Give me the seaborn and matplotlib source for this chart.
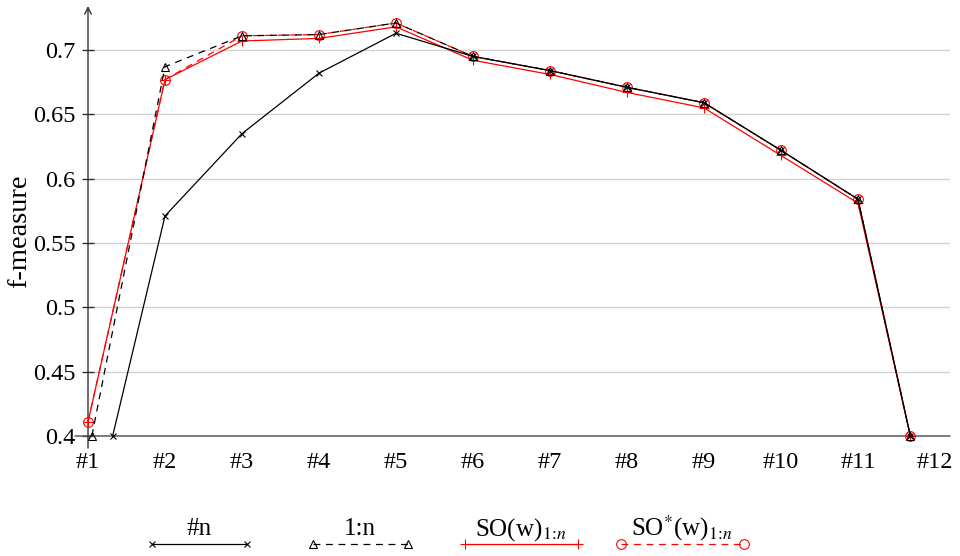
import matplotlib
matplotlib.use("Agg")
import matplotlib.pyplot as plt
import seaborn as sns
from matplotlib.legend_handler import HandlerBase
from matplotlib.lines import Line2D
from matplotlib.text import Text

# ---------------- data ----------------
tick_pos = list(range(1, 13))
tick_labels = ["#%d" % i for i in tick_pos]

x_n = [1.32, 2, 3, 4, 5, 6, 7, 8, 9, 10, 11, 11.68]
y_n = [0.400, 0.571, 0.635, 0.682, 0.713, 0.695, 0.684, 0.671, 0.659, 0.622, 0.584, 0.400]

x_1n = [1.05, 2, 3, 4, 5, 6, 7, 8, 9, 10, 11, 11.68]
y_1n = [0.400, 0.687, 0.711, 0.712, 0.721, 0.695, 0.684, 0.671, 0.659, 0.622, 0.584, 0.400]

x_so = [1.0, 2, 3, 4, 5, 6, 7, 8, 9, 10, 11, 11.68]
y_so = [0.411, 0.677, 0.707, 0.709, 0.718, 0.692, 0.681, 0.667, 0.655, 0.618, 0.581, 0.400]

x_sos = [1.0, 2, 3, 4, 5, 6, 7, 8, 9, 10, 11, 11.68]
y_sos = [0.411, 0.677, 0.711, 0.712, 0.721, 0.695, 0.684, 0.671, 0.659, 0.622, 0.584, 0.400]

labels = ["#n", "1:n", r"SO(w)$_{1\!:\!n}$", r"SO$^{*}$(w)$_{1\!:\!n}$"]
y_ticks = [0.4, 0.45, 0.5, 0.55, 0.6, 0.65, 0.7]
y_tick_labels = ["0.4", "0.45", "0.5", "0.55", "0.6", "0.65", "0.7"]

# ---------------- style ----------------
sns.set_theme(style="white")
plt.rcParams["font.family"] = ["Liberation Serif", "DejaVu Serif"]
plt.rcParams["mathtext.fontset"] = "stix"

fig = plt.figure(figsize=(9.6, 5.56), dpi=100)
ax = fig.add_axes([88 / 960, 120 / 556, (950 - 88) / 960, (436 - 6) / 556])

RED = "#ff0000"
LW = 0.9
DASH = (0, (5.5, 4.5))

sns.lineplot(x=x_sos, y=y_sos, ax=ax, color=RED, linestyle=DASH, lw=LW,
             marker="o", markersize=7, markerfacecolor="none", markeredgecolor=RED,
             markeredgewidth=0.8, errorbar=None, clip_on=False, zorder=3, label=labels[3])
sns.lineplot(x=x_so, y=y_so, ax=ax, color=RED, linestyle="-", lw=LW,
             marker="+", markersize=7.5, markeredgecolor=RED,
             markeredgewidth=0.8, errorbar=None, clip_on=False, zorder=3, label=labels[2])
sns.lineplot(x=x_1n, y=y_1n, ax=ax, color="black", linestyle=DASH, lw=LW,
             marker="^", markersize=5.5, markerfacecolor="none", markeredgecolor="black",
             markeredgewidth=0.8, errorbar=None, clip_on=False, zorder=4, label=labels[1])
sns.lineplot(x=x_n, y=y_n, ax=ax, color="black", linestyle="-", lw=LW,
             marker="x", markersize=5, markeredgecolor="black",
             markeredgewidth=0.8, errorbar=None, clip_on=False, zorder=4, label=labels[0])

lines = list(ax.lines)
h_sos, h_so, h_1n, h_n = lines
handles = [h_n, h_1n, h_so, h_sos]
if ax.get_legend() is not None:
    ax.get_legend().remove()

ax.set_xlim(1.0, 12.195)
ax.set_ylim(0.4, 0.4 + 430 / 1286.7)

for s in ax.spines.values():
    s.set_visible(False)

AXC = "#5a5a5a"
# horizontal axis line (extends a little past the y axis)
ax.axhline(0.4, xmin=-0.015, xmax=1.0, color=AXC, lw=1.1, clip_on=False, zorder=2)
# vertical axis with arrow
ax.annotate("", xy=(0, 1.0), xytext=(0, -0.028), xycoords="axes fraction",
            arrowprops=dict(arrowstyle="->", color="#333333", lw=1.0,
                            shrinkA=0, shrinkB=0), zorder=2)

ax.set_yticks(y_ticks)
ax.set_yticklabels(y_tick_labels)
ax.set_xticks(tick_pos)
ax.set_xticklabels(tick_labels)
ax.tick_params(axis="y", direction="inout", length=9, width=1.0, color="#333333",
               pad=4.3, labelsize=17.5, left=True)
ax.tick_params(axis="x", length=0, pad=11.5, labelsize=17.5, bottom=True)
for lab in ax.get_xticklabels() + ax.get_yticklabels():
    lab.set_color("black")

ax.yaxis.grid(True, color="#d2d2d2", lw=1.0)
ax.xaxis.grid(False)
ax.set_axisbelow(True)

ax.set_ylabel("f-measure", fontsize=20.5, color="black", labelpad=1)
ax.yaxis.label.set_y(0.477)
ax.set_xlabel("")


# ---------------- legend: label centred above the sample line ----------------
class AboveHandler(HandlerBase):
    def __init__(self, text, min_len=68.4, extra=15.0, gap=5.8, **kw):
        super().__init__(**kw)
        self.text = text
        self.min_len = min_len
        self.extra = extra
        self.gap = gap

    def create_artists(self, legend, orig_handle, xdescent, ydescent, width, height,
                       fontsize, trans):
        fig_ = legend.get_figure(root=True)
        renderer = fig_.canvas.get_renderer()
        probe = Text(0, 0, self.text, fontproperties=legend.prop)
        probe.set_figure(fig_)
        w_pt = probe.get_window_extent(renderer).width * 72.0 / fig_.dpi
        length = max(self.min_len, w_pt + self.extra)
        xc = width / 2.0 - xdescent
        y = (height - ydescent) / 2.0
        ln = Line2D([xc - length / 2.0, xc + length / 2.0], [y, y])
        self.update_prop(ln, orig_handle, legend)
        ln.set_transform(trans)
        txt = Text(xc, y + self.gap, self.text, ha="center", va="baseline",
                   fontproperties=legend.prop, color="black")
        txt.set_transform(trans)
        return [ln, txt]


hmap = {h: AboveHandler(l) for h, l in zip(handles, labels)}
leg_fs = 18
leg = ax.legend(handles=handles, labels=[""] * 4, handler_map=hmap, ncol=4,
                frameon=False, fontsize=leg_fs, handlelength=115.92 / leg_fs,
                handletextpad=0, columnspacing=0, borderpad=0, borderaxespad=0,
                loc="center", bbox_to_anchor=(440.75 / 960, 10 / 556),
                bbox_transform=fig.transFigure)

fig.savefig("out.png", dpi=100)
